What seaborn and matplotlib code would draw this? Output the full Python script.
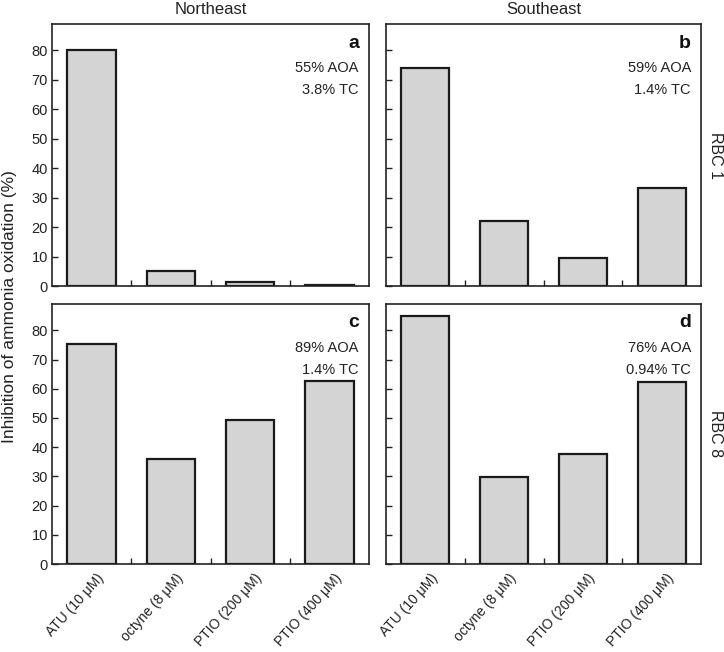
import matplotlib
matplotlib.use("Agg")
import matplotlib.pyplot as plt
import seaborn as sns
import pandas as pd

sns.set_theme(style="white")
plt.rcParams['font.family'] = ['Liberation Sans', 'DejaVu Sans']

treatments = ["ATU (10 μM)", "octyne (8 μM)", "PTIO (200 μM)", "PTIO (400 μM)"]
regions = ["Northeast", "Southeast"]
rbcs = ["RBC 1", "RBC 8"]
ne_rbc1 = [80.2, 5.0, 1.5, 0.2]
se_rbc1 = [74.2, 22.0, 9.5, 33.4]
ne_rbc8 = [75.4, 35.8, 49.2, 62.8]
se_rbc8 = [84.9, 29.8, 37.8, 62.4]
panel_letters = ["a", "b", "c", "d"]
aoa_labels = ["55% AOA", "59% AOA", "89% AOA", "76% AOA"]
tc_labels = ["3.8% TC", "1.4% TC", "1.4% TC", "0.94% TC"]

values = [[ne_rbc1, se_rbc1], [ne_rbc8, se_rbc8]]

fig = plt.figure(figsize=(7.24, 6.52), dpi=100)
lefts = [52 / 724, 386 / 724]
widths = [317 / 724, 315 / 724]
bottoms = [1 - 286 / 652, 1 - 564 / 652]
heights = [262 / 652, 260 / 652]

k = 0
for r in range(2):
    for c in range(2):
        ax = fig.add_axes([lefts[c], bottoms[r], widths[c], heights[r]])
        df = pd.DataFrame({"treatment": treatments, "value": values[r][c]})
        sns.barplot(data=df, x="treatment", y="value", ax=ax, color="#d4d4d4",
                    edgecolor="#1a1a1a", linewidth=1.6, width=0.61, saturation=1)
        ax.set_xlim(-0.5, 3.5)
        ax.set_ylim(0, 89)
        ax.set_yticks(range(0, 81, 10))
        ax.set_xticks([0.5, 1.5, 2.5])
        ax.set_xticklabels([])
        ax.tick_params(axis="both", direction="in", length=4, width=1.0, colors="#222222",
                       labelsize=10.5, labelcolor="#222222", bottom=True, left=True,
                       top=False, right=False, pad=3)
        if c == 1:
            ax.set_yticklabels([])
        ax.set_xlabel("")
        ax.set_ylabel("")
        for s in ax.spines.values():
            s.set_visible(True)
            s.set_linewidth(1.2)
            s.set_color("#222222")
        if r == 1:
            for i, t in enumerate(treatments):
                ax.text(i + 0.06, -2.5, t, rotation=48, ha="right", va="top",
                        fontsize=10, color="#222222", rotation_mode="anchor",
                        transform=ax.transData, clip_on=False)
        if r == 0:
            ax.set_title(regions[c], fontsize=12, color="#222222", pad=7)
        if c == 1:
            ax.text(1.045, 0.5, rbcs[r], rotation=-90, transform=ax.transAxes,
                    ha="center", va="center", fontsize=11.5, color="#222222")
        ax.text(0.968, 0.927, panel_letters[k], transform=ax.transAxes, ha="right",
                va="center", fontsize=14, fontweight="bold", color="#111111")
        ax.text(0.968, 0.832, aoa_labels[k], transform=ax.transAxes, ha="right",
                va="center", fontsize=10.5, color="#222222")
        ax.text(0.968, 0.748, tc_labels[k], transform=ax.transAxes, ha="right",
                va="center", fontsize=10.5, color="#222222")
        k += 1

fig.text(0.013, 1 - 307 / 652, "Inhibition of ammonia oxidation (%)", rotation=90,
         ha="center", va="center", fontsize=12.5, color="#222222")

fig.savefig("out.png", dpi=100)
